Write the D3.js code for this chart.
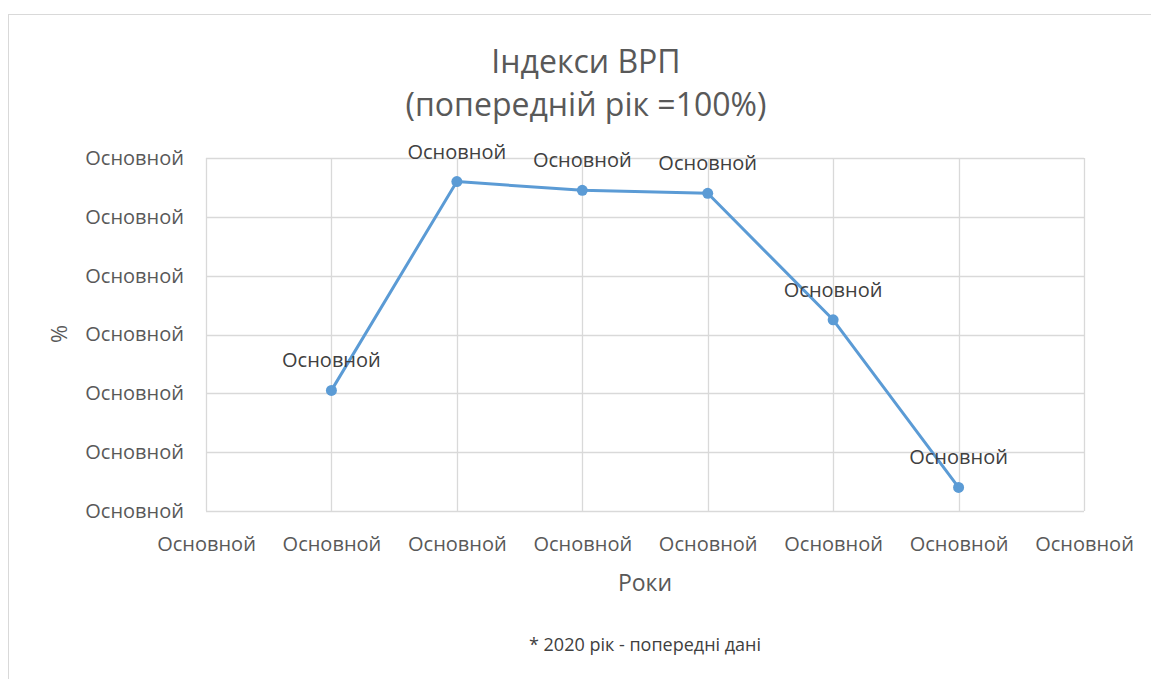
<!DOCTYPE html>
<html>
<head>
<meta charset="utf-8">
<script src="https://cdn.jsdelivr.net/npm/d3@7"></script>
<style>
  body { margin: 0; background: #fff; }
  text { font-family: "Open Sans", "Noto Sans", sans-serif; }
</style>
</head>
<body>
<svg id="chart" width="1151" height="679"></svg>
<script>
// data (tick labels in the source are all "Основной")
const years = ['2013', '2014', '2015', '2016', '2017', '2018', '2019', '2020'];
const pointYears = ['2014', '2015', '2016', '2017', '2018', '2019'];
const gdpIndex = [98.1, 105.2, 104.9, 104.8, 100.5, 94.8];
const yTicks = [94, 96, 98, 100, 102, 104, 106];
const tickLabel = 'Основной';
const dataLabels = ['Основной', 'Основной', 'Основной', 'Основной', 'Основной', 'Основной'];

const svg = d3.select('#chart');
const margin = {top: 158, right: 67, bottom: 168, left: 206};
const width = 1151, height = 679;

// outer chart border
svg.append('rect')
  .attr('x', 8.5).attr('y', 14.5)
  .attr('width', 1160).attr('height', 700)
  .attr('fill', 'none').attr('stroke', '#d9d9d9');

const x = d3.scalePoint()
  .domain(years)
  .range([margin.left, width - margin.right]);

const y = d3.scaleLinear()
  .domain([94, 106])
  .range([height - margin.bottom, margin.top]);

// gridlines
svg.append('g')
  .selectAll('line')
  .data(yTicks)
  .join('line')
  .attr('x1', margin.left).attr('x2', width - margin.right)
  .attr('y1', d => Math.round(y(d)) + 0.5).attr('y2', d => Math.round(y(d)) + 0.5)
  .attr('stroke', '#d9d9d9').attr('stroke-width', 1.3);

svg.append('g')
  .selectAll('line')
  .data(years)
  .join('line')
  .attr('x1', d => Math.round(x(d)) + 0.5).attr('x2', d => Math.round(x(d)) + 0.5)
  .attr('y1', y(106)).attr('y2', y(94))
  .attr('stroke', '#d9d9d9').attr('stroke-width', 1.3);

// axes
const xAxis = svg.append('g')
  .attr('transform', `translate(0,${height - margin.bottom})`)
  .call(d3.axisBottom(x).tickSize(0).tickPadding(26).tickFormat(() => tickLabel));
xAxis.select('.domain').remove();
xAxis.selectAll('text').attr('font-size', 20).attr('fill', '#595959')
  .style('font-family', '"Open Sans", sans-serif');

const yAxis = svg.append('g')
  .attr('transform', `translate(${margin.left},0)`)
  .call(d3.axisLeft(y).tickValues(yTicks).tickSize(0).tickPadding(22).tickFormat(() => tickLabel));
yAxis.select('.domain').remove();
yAxis.selectAll('text').attr('font-size', 20).attr('fill', '#595959')
  .style('font-family', '"Open Sans", sans-serif');

// line
const line = d3.line()
  .x((d, i) => x(pointYears[i]))
  .y(d => y(d));

svg.append('path')
  .datum(gdpIndex)
  .attr('fill', 'none')
  .attr('stroke', '#5b9bd5')
  .attr('stroke-width', 3)
  .attr('stroke-linejoin', 'round')
  .attr('d', line);

svg.append('g')
  .selectAll('circle')
  .data(gdpIndex)
  .join('circle')
  .attr('cx', (d, i) => x(pointYears[i]))
  .attr('cy', d => y(d))
  .attr('r', 5.5)
  .attr('fill', '#5b9bd5');

svg.append('g')
  .selectAll('text')
  .data(gdpIndex)
  .join('text')
  .attr('x', (d, i) => x(pointYears[i]))
  .attr('y', d => y(d) - 23)
  .attr('text-anchor', 'middle')
  .attr('font-size', 20)
  .attr('fill', '#404040')
  .text((d, i) => dataLabels[i]);

// titles
svg.append('text')
  .attr('x', 586).attr('y', 73)
  .attr('text-anchor', 'middle')
  .attr('font-size', 32).attr('fill', '#595959')
  .text('Індекси ВРП');

svg.append('text')
  .attr('x', 586).attr('y', 116)
  .attr('text-anchor', 'middle')
  .attr('font-size', 32).attr('fill', '#595959')
  .text('(попередній рік =100%)');

svg.append('text')
  .attr('x', 645).attr('y', 591)
  .attr('text-anchor', 'middle')
  .attr('font-size', 23).attr('fill', '#595959')
  .text('Роки');

svg.append('text')
  .attr('transform', 'translate(67,334) rotate(-90)')
  .attr('text-anchor', 'middle')
  .attr('font-size', 22).attr('fill', '#595959')
  .text('%');

svg.append('text')
  .attr('x', 645).attr('y', 651)
  .attr('text-anchor', 'middle')
  .attr('font-size', 18).attr('fill', '#404040')
  .text('* 2020 рік - попередні дані');
</script>
</body>
</html>
